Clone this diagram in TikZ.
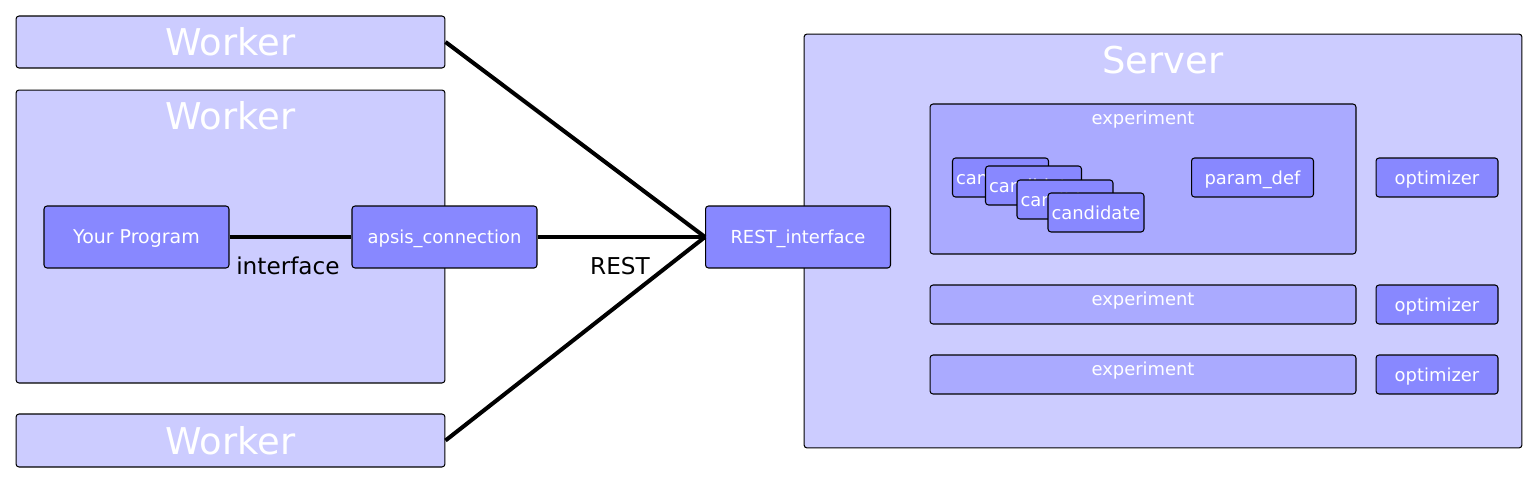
\documentclass[tikz,border=0pt]{standalone}
\usepackage{fontspec}
\setmainfont{DejaVu Sans}
\definecolor{outerfill}{RGB}{204,204,255}
\definecolor{expfill}{RGB}{170,170,255}
\definecolor{partfill}{RGB}{136,136,255}
\tikzset{
  frame/.style={draw=black, line width=0.6pt, rounded corners=0.06cm, inner sep=0pt},
  outerbox/.style={frame, fill=outerfill},
  expbox/.style={frame, fill=expfill},
  partbox/.style={frame, fill=partfill, text=white, font=\fontsize{10.2}{12}\selectfont,
                  minimum width=3.7cm, minimum height=1.24cm, text depth=0pt},
  smallbox/.style={partbox, minimum width=2.44cm, minimum height=0.78cm},
  candbox/.style={partbox, minimum width=1.92cm, minimum height=0.78cm},
  bigtitle/.style={text=white, font=\fontsize{21}{25}\selectfont},
  subtitle/.style={text=white, font=\fontsize{10.2}{12}\selectfont},
  linklabel/.style={font=\fontsize{13.2}{15}\selectfont},
  link/.style={line width=2.3pt}
}
\begin{document}
\begin{tikzpicture}[x=0.02cm, y=-0.02cm]
    \useasboundingbox (0,0) rectangle (1538,483);

    % Workers
    \node[outerbox, minimum width=8.58cm, minimum height=1.04cm] (worker1) at (230.5,42) {};
    \node[bigtitle] (worker1title) at (230.5,42) {Worker};
    \node[outerbox, minimum width=8.58cm, minimum height=5.86cm] (worker2) at (230.5,236.5) {};
    \node[bigtitle] (worker2title) at (230.5,116) {Worker};
    \node[outerbox, minimum width=8.58cm, minimum height=1.06cm] (worker3) at (230.5,440.5) {};
    \node[bigtitle] (worker3title) at (230.5,440.5) {Worker};

    % Server
    \node[outerbox, minimum width=14.36cm, minimum height=8.28cm] (server) at (1163,241) {};
    \node[bigtitle] (servertitle) at (1163,60) {Server};

    % Experiments
    \node[expbox, minimum width=8.52cm, minimum height=3.0cm] (exp1) at (1143,179) {};
    \node[subtitle] (exp1title) at (1143,120) {experiment};
    \node[expbox, minimum width=8.52cm, minimum height=0.78cm] (exp2) at (1143,304.5) {};
    \node[subtitle] (exp2title) at (1143,301) {experiment};
    \node[expbox, minimum width=8.52cm, minimum height=0.78cm] (exp3) at (1143,374.5) {};
    \node[subtitle] (exp3title) at (1143,371) {experiment};

    % Parts
    \node[partbox, font=\fontsize{10.8}{13}\selectfont] (prog) at (136.5,237) {Your Program};
    \node[partbox] (apsis) at (444.5,237) {apsis\_connection};
    \node[partbox] (rest) at (798,237) {REST\_interface};

    % Connectors
    \draw[link] (worker1.east) -- (rest.west);
    \draw[link] (worker3.east) -- (rest.west);
    \draw[link] (prog.east) -- (apsis.west);
    \draw[link] (apsis.east) -- (rest.west);
    \node[linklabel] (iflabel) at (288,266) {interface};
    \node[linklabel] (restlabel) at (620,266) {REST};

    % Candidates, parameter definition, optimizers
    \foreach \X/\Y [count=\i] in {1000.5/177.5, 1033.5/185.5, 1065/199.5, 1096/212.5} {
        \node[candbox] (cand\i) at (\X,\Y) {candidate};
    }
    \node[smallbox] (paramdef) at (1252.5,177.5) {param\_def};
    \node[smallbox] (opt1) at (1437,177.5) {optimizer};
    \node[smallbox] (opt2) at (1437,304.5) {optimizer};
    \node[smallbox] (opt3) at (1437,374.5) {optimizer};
\end{tikzpicture}
\end{document}
